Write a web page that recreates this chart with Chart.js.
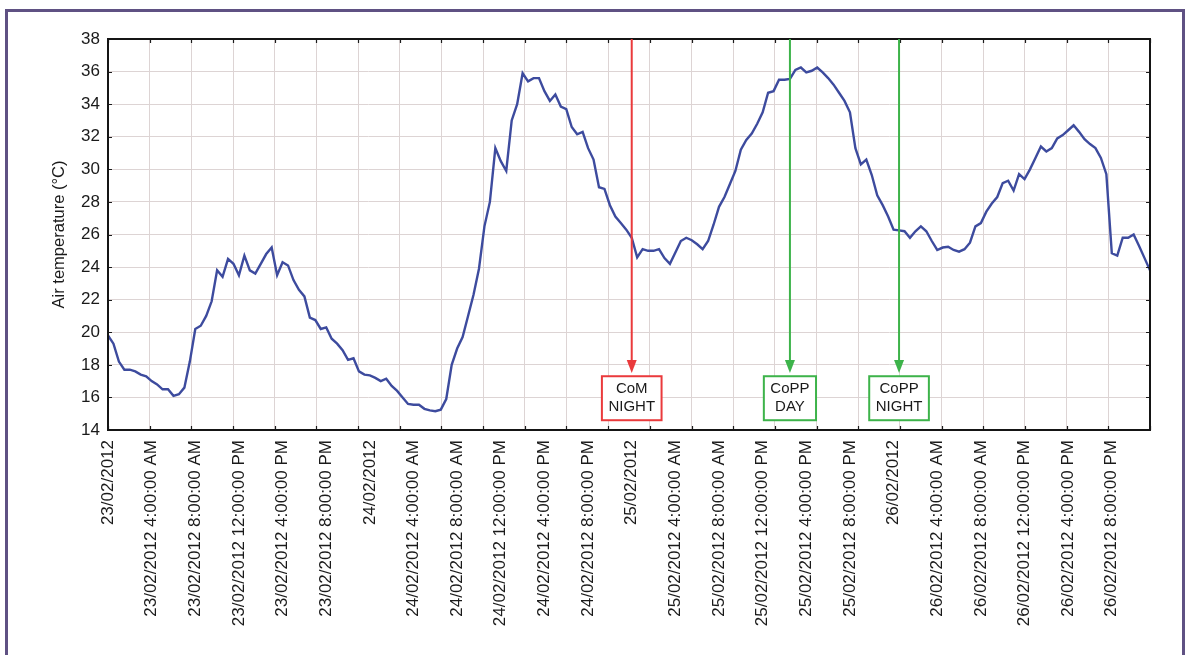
<!DOCTYPE html>
<html>
<head>
<meta charset="utf-8">
<title>Air temperature, 23–26/02/2012</title>
<script src="https://cdn.jsdelivr.net/npm/chart.js@4.4.1/dist/chart.umd.min.js"></script>
<style>
  html, body { margin: 0; padding: 0; background: #fff; }
  #wrap { position: relative; width: 1190px; height: 655px; overflow: hidden; background: #fff; }
  #frame { position: absolute; left: 5px; top: 9px; width: 1180px; height: 700px;
           border: 3px solid #5f5183; box-sizing: border-box; }
  #chart { position: absolute; left: 0; top: 0; }
</style>
</head>
<body>
<div id="wrap">
  <div id="frame"></div>
  <canvas id="chart" width="1190" height="655"></canvas>
</div>
<script>
// Half-hourly air temperature readings (°C), one array per day, starting at 00:00
const temps23 = [19.8, 19.3, 18.2, 17.7, 17.7, 17.6, 17.4, 17.3, 17.0, 16.8, 16.5, 16.5,
                 16.1, 16.2, 16.6, 18.2, 20.2, 20.4, 21.0, 21.9, 23.8, 23.4, 24.5, 24.2,
                 23.5, 24.7, 23.8, 23.6, 24.2, 24.8, 25.2, 23.5, 24.3, 24.1, 23.2, 22.6,
                 22.2, 20.9, 20.75, 20.2, 20.3, 19.6, 19.3, 18.9, 18.3, 18.4, 17.6, 17.4];
const temps24 = [17.35, 17.2, 17.0, 17.15, 16.7, 16.4, 16.0, 15.6, 15.55, 15.55, 15.3, 15.2,
                 15.15, 15.25, 15.9, 18.0, 19.0, 19.7, 21.0, 22.3, 23.9, 26.5, 28.0, 31.3,
                 30.5, 29.9, 33.0, 34.0, 35.9, 35.4, 35.6, 35.6, 34.8, 34.2, 34.6, 33.85,
                 33.7, 32.6, 32.15, 32.3, 31.3, 30.6, 28.9, 28.8, 27.8, 27.1, 26.7, 26.3];
const temps25 = [25.8, 24.6, 25.1, 25.0, 25.0, 25.1, 24.55, 24.2, 24.9, 25.6, 25.8, 25.65,
                 25.4, 25.1, 25.6, 26.6, 27.7, 28.3, 29.1, 29.9, 31.2, 31.8, 32.2, 32.8,
                 33.5, 34.7, 34.8, 35.5, 35.5, 35.55, 36.1, 36.25, 35.95, 36.05, 36.25, 35.95,
                 35.6, 35.2, 34.7, 34.2, 33.5, 31.3, 30.3, 30.6, 29.65, 28.4, 27.8, 27.1];
const temps26 = [26.3, 26.25, 26.2, 25.8, 26.2, 26.5, 26.2, 25.6, 25.05, 25.2, 25.25, 25.05,
                 24.95, 25.1, 25.5, 26.5, 26.7, 27.4, 27.9, 28.3, 29.15, 29.3, 28.7, 29.7,
                 29.4, 30.0, 30.7, 31.4, 31.1, 31.3, 31.9, 32.1, 32.4, 32.7, 32.3, 31.85,
                 31.55, 31.3, 30.7, 29.7, 24.85, 24.7, 25.8, 25.8, 26.0, 25.3, 24.55, 23.8];

// Reading interval in hours
const STEP_HOURS = 0.5;

// Date/time tick labels and their offsets (hours from 23/02/2012 00:00)
const tickHours = [0, 4, 8, 12, 16, 20, 24, 28, 32, 36, 40, 44,
                   48, 52, 56, 60, 64, 68, 72, 76, 80, 84, 88, 92];
const tickLabels = [
  "23/02/2012", "23/02/2012 4:00:00 AM", "23/02/2012 8:00:00 AM", "23/02/2012 12:00:00 PM",
  "23/02/2012 4:00:00 PM", "23/02/2012 8:00:00 PM",
  "24/02/2012", "24/02/2012 4:00:00 AM", "24/02/2012 8:00:00 AM", "24/02/2012 12:00:00 PM",
  "24/02/2012 4:00:00 PM", "24/02/2012 8:00:00 PM",
  "25/02/2012", "25/02/2012 4:00:00 AM", "25/02/2012 8:00:00 AM", "25/02/2012 12:00:00 PM",
  "25/02/2012 4:00:00 PM", "25/02/2012 8:00:00 PM",
  "26/02/2012", "26/02/2012 4:00:00 AM", "26/02/2012 8:00:00 AM", "26/02/2012 12:00:00 PM",
  "26/02/2012 4:00:00 PM", "26/02/2012 8:00:00 PM"
];

// Event markers: time (hours), label lines, colour
const markerHours  = [48, 62.5, 72.5];
const markerLabels = [["CoM", "NIGHT"], ["CoPP", "DAY"], ["CoPP", "NIGHT"]];
const markerColors = ["#ea3a3c", "#3db34a", "#3db34a"];
const markerTipValue = 17.5;            // arrow tip on the temperature scale
const markerBoxValues = [17.3, 14.6];   // label box top / bottom on the temperature scale

const Y_MIN = 14, Y_MAX = 38, Y_STEP = 2;
const GRID_DIVISIONS = 25;

const allTemps = [].concat(temps23, temps24, temps25, temps26);
const points = allTemps.map((v, i) => ({ x: i * STEP_HOURS, y: v }));
const X_MAX = (allTemps.length - 1) * STEP_HOURS;

const FONT = "'Liberation Sans', Arial, sans-serif";

// Frame around the plot area, with short inward tick marks on all four sides
const plotFrame = {
  id: 'plotFrame',
  afterDatasetsDraw(chart) {
    const { ctx, chartArea: a, scales } = chart;
    ctx.save();
    ctx.strokeStyle = '#1c1c1c';
    ctx.lineWidth = 1.2;
    ctx.beginPath();
    scales.xg.ticks.forEach(t => {
      const px = Math.round(scales.xg.getPixelForValue(t.value)) + 0.5;
      ctx.moveTo(px, a.top); ctx.lineTo(px, a.top + 4);
      ctx.moveTo(px, a.bottom); ctx.lineTo(px, a.bottom - 4);
    });
    scales.y.ticks.forEach(t => {
      const py = Math.round(scales.y.getPixelForValue(t.value)) + 0.5;
      ctx.moveTo(a.left, py); ctx.lineTo(a.left + 4, py);
      ctx.moveTo(a.right, py); ctx.lineTo(a.right - 4, py);
    });
    ctx.stroke();
    ctx.lineWidth = 2;
    ctx.strokeStyle = '#151515';
    ctx.strokeRect(a.left, a.top, a.right - a.left, a.bottom - a.top);
    ctx.restore();
  }
};

// Vertical arrows with boxed labels marking the sampling events
const eventMarkers = {
  id: 'eventMarkers',
  afterDatasetsDraw(chart) {
    const { ctx, chartArea: a, scales: { x, y } } = chart;
    ctx.save();
    ctx.font = '15px ' + FONT;
    markerHours.forEach((h, i) => {
      const px = x.getPixelForValue(h);
      const tip = y.getPixelForValue(markerTipValue);
      const col = markerColors[i];
      ctx.strokeStyle = col;
      ctx.fillStyle = col;
      ctx.lineWidth = 2;
      ctx.beginPath();
      ctx.moveTo(px, a.top);
      ctx.lineTo(px, tip - 10);
      ctx.stroke();
      ctx.beginPath();
      ctx.moveTo(px, tip);
      ctx.lineTo(px - 5, tip - 13);
      ctx.lineTo(px + 5, tip - 13);
      ctx.closePath();
      ctx.fill();

      const lines = markerLabels[i];
      const w = Math.max(...lines.map(s => ctx.measureText(s).width)) + 13;
      const top = y.getPixelForValue(markerBoxValues[0]);
      const bottom = y.getPixelForValue(markerBoxValues[1]);
      ctx.fillStyle = '#ffffff';
      ctx.fillRect(px - w / 2, top, w, bottom - top);
      ctx.lineWidth = 2;
      ctx.strokeRect(px - w / 2, top, w, bottom - top);
      ctx.fillStyle = '#1a1a1a';
      ctx.textAlign = 'center';
      ctx.textBaseline = 'middle';
      const mid = (top + bottom) / 2;
      ctx.fillText(lines[0], px, mid - 9);
      ctx.fillText(lines[1], px, mid + 9);
    });
    ctx.restore();
  }
};

new Chart(document.getElementById('chart'), {
  type: 'line',
  data: {
    datasets: [{
      label: 'Air temperature (°C)',
      data: points,
      xAxisID: 'x',
      yAxisID: 'y',
      borderColor: '#3d4b9e',
      borderWidth: 2.4,
      pointRadius: 0,
      tension: 0,
      fill: false
    }]
  },
  options: {
    responsive: false,
    animation: false,
    devicePixelRatio: 1,
    layout: { padding: { left: 0, top: 39, right: 40, bottom: 0 } },
    plugins: { legend: { display: false }, tooltip: { enabled: false } },
    scales: {
      x: {
        type: 'linear',
        position: 'bottom',
        min: 0,
        max: X_MAX,
        grid: { display: false, drawTicks: false },
        border: { display: false },
        afterBuildTicks: s => { s.ticks = tickHours.map(v => ({ value: v })); },
        afterFit: s => { s.height = 225; },
        ticks: {
          autoSkip: false,
          minRotation: 90,
          maxRotation: 90,
          padding: 10,
          color: '#1a1a1a',
          font: { family: FONT, size: 17 },
          callback: (v, i) => tickLabels[i]
        }
      },
      xg: {
        type: 'linear',
        position: 'top',
        min: 0,
        max: X_MAX,
        afterBuildTicks: s => {
          const t = [];
          for (let k = 0; k <= GRID_DIVISIONS; k++) t.push({ value: X_MAX * k / GRID_DIVISIONS });
          s.ticks = t;
        },
        afterFit: s => { s.height = 0; },
        ticks: { display: false },
        grid: { color: '#ddd4d4', lineWidth: 1, drawTicks: false },
        border: { display: false }
      },
      y: {
        min: Y_MIN,
        max: Y_MAX,
        afterFit: s => { s.width = 108; },
        ticks: {
          stepSize: Y_STEP,
          padding: 8,
          color: '#1a1a1a',
          font: { family: FONT, size: 17 }
        },
        grid: { color: '#ddd4d4', lineWidth: 1, drawTicks: false },
        border: { display: false },
        title: {
          display: true,
          text: 'Air temperature (°C)',
          color: '#1a1a1a',
          font: { family: FONT, size: 16.5 },
          padding: { top: 50, bottom: 0 }
        }
      }
    }
  },
  plugins: [plotFrame, eventMarkers]
});
</script>
</body>
</html>
